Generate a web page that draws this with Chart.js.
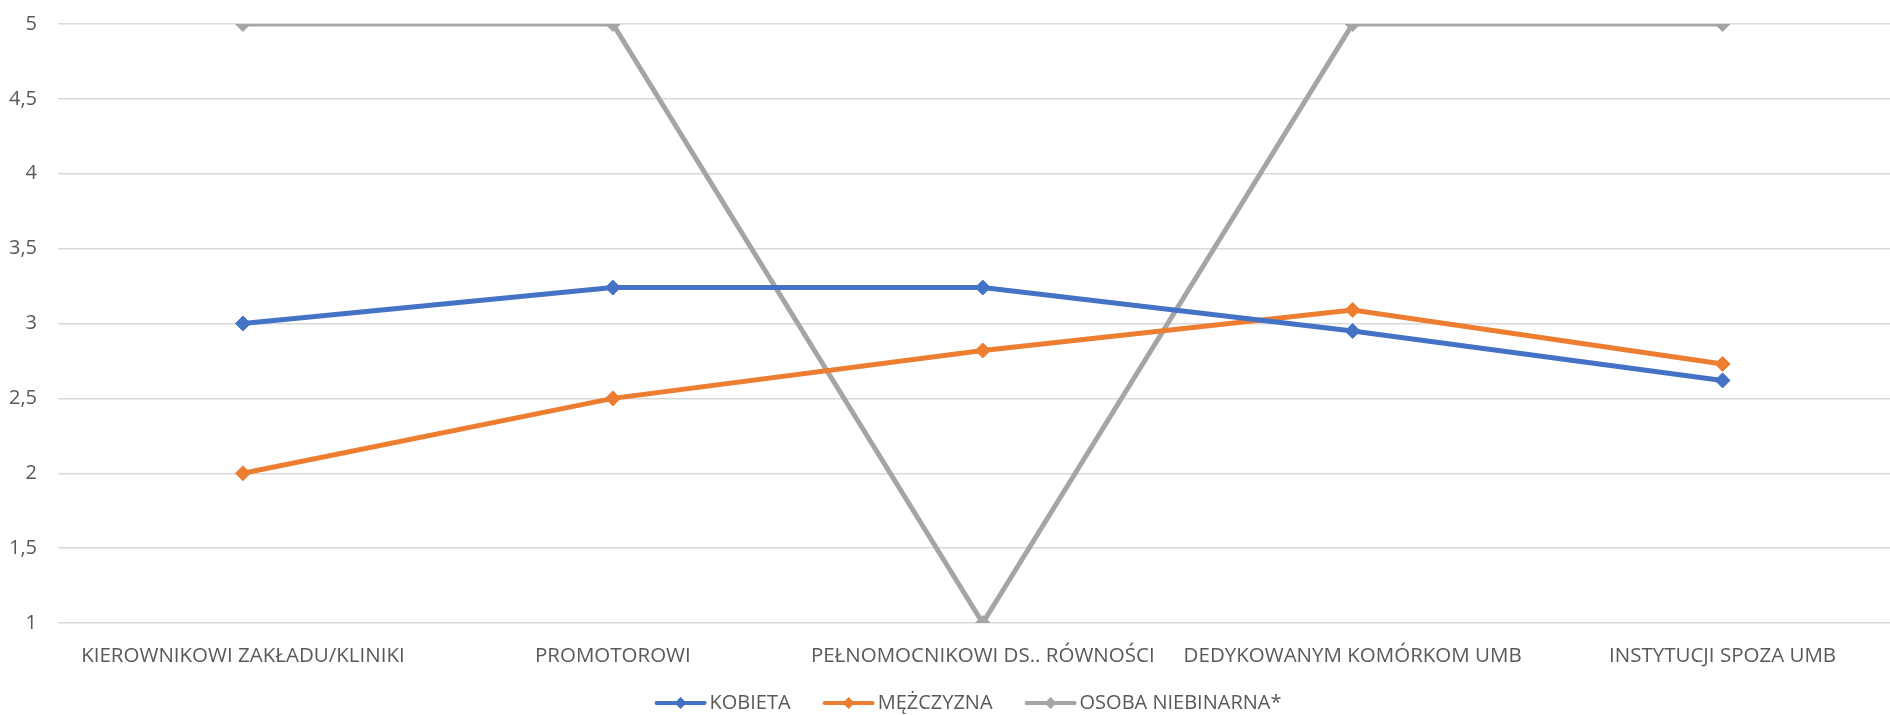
<!DOCTYPE html>
<html lang="pl">
  <head>
    <meta charset="UTF-8" />
    <title>Wykres</title>
    <script src="https://cdn.jsdelivr.net/npm/chart.js"></script>
    <style>
      html, body {
        margin: 0;
        padding: 0;
        background: #fff;
        overflow: hidden;
      }
      .wrap {
        width: 1916px;
        height: 715px;
      }
    </style>
  </head>
  <body>
    <div class="wrap"><canvas id="chart"></canvas></div>

    <script>
      const categories = [
        'KIEROWNIKOWI ZAKŁADU/KLINIKI',
        'PROMOTOROWI',
        'PEŁNOMOCNIKOWI DS.. RÓWNOŚCI',
        'DEDYKOWANYM KOMÓRKOM UMB',
        'INSTYTUCJI SPOZA UMB',
      ];
      const kobieta = [3, 3.24, 3.24, 2.95, 2.62];
      const mezczyzna = [2, 2.5, 2.82, 3.09, 2.73];
      const niebinarna = [5, 5, 1, 5, 5];

      const FONT = "'Open Sans', sans-serif";
      const TEXT = '#595959';

      function series(label, data, color) {
        return {
          label,
          data,
          borderColor: color,
          backgroundColor: color,
          borderWidth: 5,
          pointStyle: 'rectRot',
          pointRadius: 7.5,
          pointBorderWidth: 1,
          pointHoverRadius: 7.5,
          tension: 0,
        };
      }

      // Excel-like legend: line with a diamond, then the label
      const bottomLegend = {
        id: 'bottomLegend',
        afterDraw(chart) {
          const ctx = chart.ctx;
          const y = 703;
          const lineW = 48;
          const gap = 5;
          const itemGap = 34;
          ctx.save();
          ctx.font = `20px ${FONT}`;
          const items = chart.data.datasets.map((ds) => ({
            ds,
            w: lineW + gap + ctx.measureText(ds.label).width,
          }));
          const total = items.reduce((s, it) => s + it.w, 0) + itemGap * (items.length - 1);
          let x = 969 - total / 2;
          items.forEach(({ ds, w }) => {
            ctx.strokeStyle = ds.borderColor;
            ctx.fillStyle = ds.borderColor;
            ctx.lineWidth = 4;
            ctx.lineCap = 'round';
            ctx.beginPath();
            ctx.moveTo(x, y);
            ctx.lineTo(x + lineW, y);
            ctx.stroke();
            const cx = x + lineW / 2;
            ctx.beginPath();
            ctx.moveTo(cx, y - 6);
            ctx.lineTo(cx + 6, y);
            ctx.lineTo(cx, y + 6);
            ctx.lineTo(cx - 6, y);
            ctx.closePath();
            ctx.fill();
            ctx.fillStyle = TEXT;
            ctx.textBaseline = 'middle';
            ctx.textAlign = 'left';
            ctx.fillText(ds.label, x + lineW + gap, y);
            x += w + itemGap;
          });
          ctx.restore();
        },
      };

      new Chart(document.getElementById('chart'), {
        type: 'line',
        data: {
          labels: categories,
          datasets: [
            series('KOBIETA', kobieta, '#4472C4'),
            series('MĘŻCZYZNA', mezczyzna, '#ED7D31'),
            series('OSOBA NIEBINARNA*', niebinarna, '#A5A5A5'),
          ],
        },
        plugins: [bottomLegend],
        options: {
          responsive: true,
          maintainAspectRatio: false,
          animation: false,
          layout: { padding: { top: 24, right: 0, bottom: 42, left: 0 } },
          plugins: {
            tooltip: { enabled: false },
            legend: { display: false },
          },
          scales: {
            x: {
              offset: true,
              afterFit: (scale) => {
                scale.height = 50;
              },
              grid: { display: false, offset: true },
              border: { display: false },
              ticks: {
                color: TEXT,
                font: { family: FONT, size: 20.5 },
                maxRotation: 0,
                autoSkip: false,
                padding: 13,
              },
            },
            y: {
              min: 1,
              max: 5,
              afterFit: (scale) => {
                scale.width = 58;
                scale.paddingTop = 0;
                scale.paddingBottom = 0;
              },
              grid: { color: '#D9D9D9', lineWidth: 1.5, drawTicks: false },
              border: { display: false },
              ticks: {
                stepSize: 0.5,
                color: TEXT,
                padding: 21,
                font: { family: FONT, size: 20 },
                callback: (v) => String(v).replace('.', ','),
              },
            },
          },
        },
      });
    </script>
  </body>
</html>
